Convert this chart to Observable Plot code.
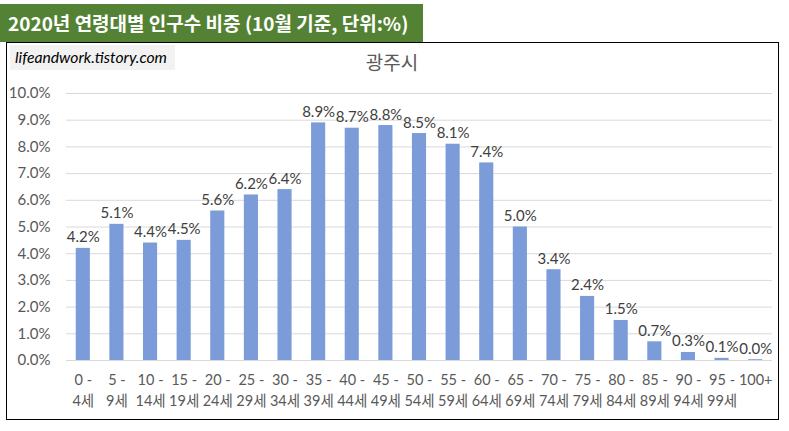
<!DOCTYPE html>
<html>
<head>
<meta charset="utf-8">
<script src="https://cdn.jsdelivr.net/npm/d3@7"></script>
<script src="https://cdn.jsdelivr.net/npm/@observablehq/plot@0.6"></script>
<style>
  html, body { margin: 0; padding: 0; background: #fff; width: 789px; height: 431px; overflow: hidden; }
  #banner { position: absolute; left: 0; top: 4px; width: 423px; height: 38px; background: #548235;
    color: #fff; font-family: "Noto Sans CJK KR", sans-serif; font-weight: bold; font-size: 19px;
    line-height: 37px; padding-left: 8px; box-sizing: border-box; white-space: nowrap; }
  #box { position: absolute; left: 6px; top: 42px; width: 773px; height: 378px; border: 1.5px solid #000; box-sizing: border-box; }
  #wm { position: absolute; left: 10px; top: 45px; width: 165px; height: 25px; background: #f2f2f2;
    font-family: Lato, "Open Sans", sans-serif; font-style: italic; font-size: 15.7px; line-height: 24px;
    padding-left: 5px; box-sizing: border-box; color: #000; white-space: nowrap; }
  #ctitle { position: absolute; left: 292px; width: 200px; top: 48px; text-align: center;
    font-family: "Noto Sans CJK KR", sans-serif; font-size: 19px; color: #595959; line-height: 28px; }
  #chart { position: absolute; left: 7px; top: 43px; }
</style>
</head>
<body>
<div id="banner">2020년 연령대별 인구수 비중 (10월 기준, 단위:%)</div>
<div id="box"></div>
<div id="wm">lifeandwork.tistory.com</div>
<div id="ctitle">광주시</div>
<div id="chart"></div>
<script>
const categories = ["0 - 4세","5 - 9세","10 - 14세","15 - 19세","20 - 24세","25 - 29세","30 - 34세","35 - 39세","40 - 44세","45 - 49세","50 - 54세","55 - 59세","60 - 64세","65 - 69세","70 - 74세","75 - 79세","80 - 84세","85 - 89세","90 - 94세","95 - 99세","100+"];
const shares = [4.2, 5.1, 4.4, 4.5, 5.6, 6.2, 6.4, 8.9, 8.7, 8.8, 8.5, 8.1, 7.4, 5.0, 3.4, 2.4, 1.5, 0.7, 0.3, 0.08, 0.03];
const yTicks = [0,1,2,3,4,5,6,7,8,9,10];

const data = categories.map((c, i) => ({cat: c, v: shares[i]}));
const font = "Lato, 'Noto Sans CJK KR', sans-serif";

const chart = Plot.plot({
  width: 772,
  height: 377,
  marginLeft: 59,
  marginRight: 7,
  marginTop: 50,
  marginBottom: 60,
  style: {fontFamily: font, background: "transparent", overflow: "visible"},
  x: {domain: categories, paddingInner: 0.58, paddingOuter: 0.29, round: false, label: null},
  y: {domain: [0, 10], label: null},
  marks: [
    Plot.gridY(yTicks, {stroke: "#d9d9d9", strokeOpacity: 1, strokeWidth: 1}),
    Plot.axisY(yTicks, {tickSize: 0, tickPadding: 16, fontSize: 15, fill: "#595959", label: null,
      tickFormat: d => d.toFixed(1) + "%"}),
    Plot.axisX({tickSize: 0, tickPadding: 10, fontSize: 14.5, fill: "#595959", label: null, lineHeight: 1.45,
      tickFormat: d => d.replace(" - ", " -\n")}),
    Plot.barY(data, {x: "cat", y: "v", fill: "#7b9cd8"}),
    Plot.text(data, {x: "cat", y: "v", text: d => d.v.toFixed(1) + "%", lineAnchor: "bottom", dy: -6,
      fontSize: 15, fill: "#404040"})
  ]
});
document.getElementById("chart").appendChild(chart);
</script>
</body>
</html>
